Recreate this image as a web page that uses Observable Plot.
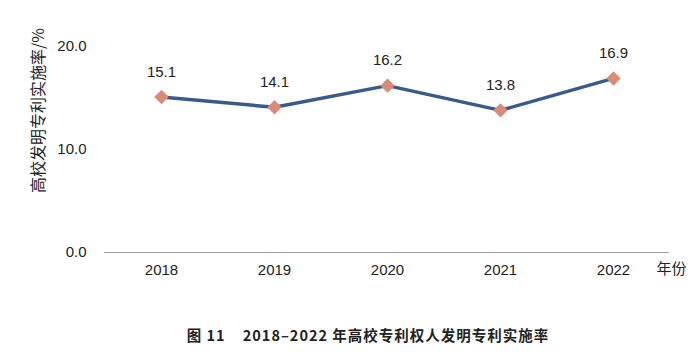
<!DOCTYPE html>
<html><head><meta charset="utf-8">
<script src="https://cdn.jsdelivr.net/npm/d3@7"></script>
<script src="https://cdn.jsdelivr.net/npm/@observablehq/plot@0.6"></script>
<style>
body{margin:0;background:#fff;}
#chart{width:696px;}
#cap{font-family:"Noto Sans CJK SC","Liberation Sans",sans-serif;font-size:14.5px;font-weight:bold;color:#222;text-align:center;white-space:pre;padding-left:40px;letter-spacing:1px;margin-top:24px;}
</style></head>
<body><div id="chart"></div><div id="cap">图 11    2018–2022 年高校专利权人发明专利实施率</div>
<script>
const years = ["2018","2019","2020","2021","2022"];
const rates = [15.1, 14.1, 16.2, 13.8, 16.9];
const yTicks = [0, 10, 20];
const yTitle = "高校发明专利实施率/%";
const xTitle = "年份";
const data = years.map((y,i)=>({year:y, rate:rates[i]}));
const plot = Plot.plot({
  width:696, height:300,
  marginLeft:104, marginRight:27, marginTop:46, marginBottom:48,
  style:{fontFamily:"'Liberation Sans',Arial,sans-serif", fontSize:"15px", color:"#222"},
  x:{type:"point", domain:years, padding:0.5},
  y:{domain:[0,20]},
  marks:[
    Plot.axisY({ticks:yTicks, tickSize:0, tickPadding:18, tickFormat:d=>d.toFixed(1), label:null, fontSize:15}),
    Plot.axisX({tickSize:0, tickPadding:12, label:null, fontSize:15}),
    Plot.ruleY([0],{stroke:"#a0a0a0", strokeWidth:1.2}),
    Plot.line(data,{x:"year", y:"rate", stroke:"#3b5b86", strokeWidth:3.5}),
    Plot.dot(data,{x:"year", y:"rate", symbol:"diamond2", r:6.5, fill:"#d98b7a", stroke:"none"}),
    Plot.text(data,{x:"year", y:"rate", text:d=>d.rate.toFixed(1), dy:-25, fontSize:15, fill:"#222"}),
    Plot.text([yTitle],{frameAnchor:"top-left", textAnchor:"middle", dx:-72, dy:64, rotate:-90, fontSize:16, fill:"#222", fontFamily:"'Noto Sans CJK SC',sans-serif"}),
    Plot.text([xTitle],{frameAnchor:"bottom-right", dx:-13, dy:21, textAnchor:"start", fontSize:15, fill:"#222", fontFamily:"'Noto Sans CJK SC',sans-serif"})
  ]
});
document.getElementById("chart").appendChild(plot);
</script></body></html>
